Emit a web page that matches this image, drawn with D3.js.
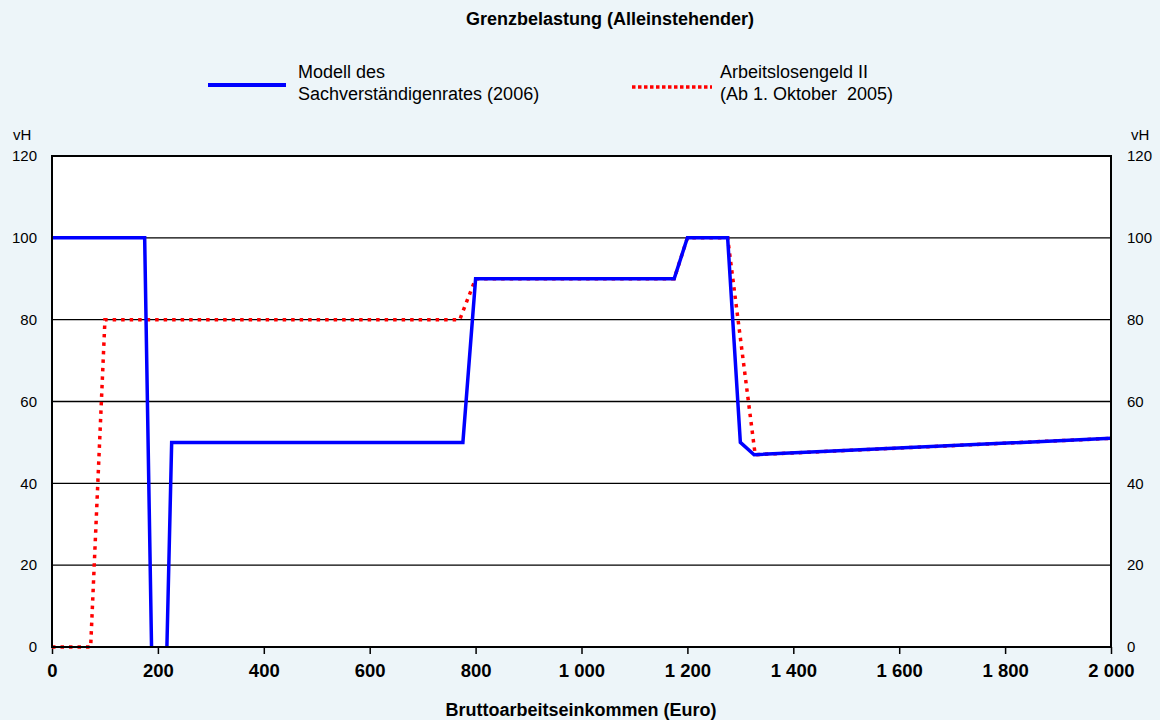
<!DOCTYPE html>
<html>
<head>
<meta charset="utf-8">
<style>
	body { margin: 0; background: #edf5f9; font-family: "Liberation Sans", Arial, Helvetica, sans-serif; }
	svg { display: block; }
	.title { font-size: 18px; font-weight: bold; fill: #000; }
	.legend-text { font-size: 18px; fill: #000; }
	.y-label { font-size: 15px; fill: #000; }
	.x-axis text { font-size: 18.5px; font-weight: bold; fill: #000; }
	.x-axis path { display: none; }
	.x-axis line { stroke: #000; stroke-width: 1.5px; }
	.grid line { stroke: #000; stroke-width: 1.3px; }
	.frame { fill: none; stroke: #000; stroke-width: 2px; }
	.x-title { font-size: 18px; font-weight: bold; fill: #000; }
</style>
</head>
<body>
<script src="https://d3js.org/d3.v7.min.js"></script>
<script>
	// values (null = no line drawn between the two points)
	var xTicks = [0, 200, 400, 600, 800, 1000, 1200, 1400, 1600, 1800, 2000];
	var yTicks = [0, 20, 40, 60, 80, 100, 120];
	var sachverstIncome = [0, 175, 188, null, 217, 226, 776, 800, 1175, 1200, 1276, 1300, 1326, 2000];
	var sachverstRate   = [100, 100, 0, null, 0, 50, 50, 90, 90, 100, 100, 50, 47, 51];
	var alg2Income = [0, 73, 100, 770, 800, 1175, 1200, 1276, 1328, 2000];
	var alg2Rate   = [0, 0, 80, 80, 90, 90, 100, 100, 47, 51];
	var seriesNames = [["Modell des", "Sachverständigenrates (2006)"], ["Arbeitslosengeld II", "(Ab 1. Oktober  2005)"]];

	var W = 1160, H = 720;
	var margin = {top: 156, right: 49, bottom: 73, left: 52},
		width = W - margin.left - margin.right,
		height = H - margin.top - margin.bottom;

	var svg = d3.select("body").append("svg")
		.attr("width", W)
		.attr("height", H);

	svg.append("text")
		.attr("class", "title")
		.attr("x", 610)
		.attr("y", 25)
		.attr("text-anchor", "middle")
		.text("Grenzbelastung (Alleinstehender)");

	// legend
	var legend = svg.append("g");
	legend.append("line")
		.attr("x1", 208).attr("x2", 286).attr("y1", 85).attr("y2", 85)
		.attr("stroke", "#0000ff").attr("stroke-width", 4);
	legend.append("line")
		.attr("x1", 632).attr("x2", 712).attr("y1", 87).attr("y2", 87)
		.attr("stroke", "#ff0000").attr("stroke-width", 3.5)
		.attr("stroke-dasharray", "3.5,2.5");
	[[298, seriesNames[0]], [720, seriesNames[1]]].forEach(function(d) {
		d[1].forEach(function(line, i) {
			legend.append("text")
				.attr("class", "legend-text")
				.attr("x", d[0])
				.attr("y", 78 + i * 22)
				.text(line)
				.style("white-space", "pre");
		});
	});

	var g = svg.append("g")
		.attr("transform", "translate(" + margin.left + "," + margin.top + ")");

	var x = d3.scaleLinear().domain([0, 2000]).range([0, width]);
	var y = d3.scaleLinear().domain([0, 120]).range([height, 0]);

	g.append("rect")
		.attr("width", width)
		.attr("height", height)
		.attr("fill", "#fff");

	g.append("g")
		.attr("class", "grid")
		.selectAll("line")
		.data(yTicks.filter(function(d) { return d > 0 && d < 120; }))
		.enter().append("line")
		.attr("x1", 0).attr("x2", width)
		.attr("y1", function(d) { return y(d); })
		.attr("y2", function(d) { return y(d); });

	var fmt = function(d) { return d3.format(",")(d).replace(",", " "); };

	g.append("g")
		.attr("class", "x-axis")
		.attr("transform", "translate(0," + height + ")")
		.call(d3.axisBottom(x).tickValues(xTicks).tickSize(7).tickPadding(10).tickFormat(fmt));

	// y labels left and right
	g.append("g").selectAll("text")
		.data(yTicks)
		.enter().append("text")
		.attr("class", "y-label")
		.attr("x", -15)
		.attr("y", function(d) { return y(d); })
		.attr("dy", "0.35em")
		.attr("text-anchor", "end")
		.text(function(d) { return d; });
	g.append("g").selectAll("text")
		.data(yTicks)
		.enter().append("text")
		.attr("class", "y-label")
		.attr("x", width + 16)
		.attr("y", function(d) { return y(d); })
		.attr("dy", "0.35em")
		.text(function(d) { return d; });
	g.append("text").attr("class", "y-label")
		.attr("x", -39).attr("y", -16).text("vH");
	g.append("text").attr("class", "y-label")
		.attr("x", width + 20).attr("y", -16).text("vH");

	var line = d3.line()
		.defined(function(d) { return d[0] !== null && d[1] !== null; })
		.x(function(d) { return x(d[0]); })
		.y(function(d) { return y(d[1]); });

	var blueData = d3.zip(sachverstIncome, sachverstRate);
	var redData = d3.zip(alg2Income, alg2Rate);

	g.append("path")
		.datum(redData)
		.attr("fill", "none")
		.attr("stroke", "#ff0000")
		.attr("stroke-width", 3.5)
		.attr("stroke-dasharray", "3.5,5")
		.attr("d", line);

	g.append("path")
		.datum(blueData)
		.attr("fill", "none")
		.attr("stroke", "#0000ff")
		.attr("stroke-width", 3.5)
		.attr("stroke-linejoin", "miter")
		.attr("d", line);

	g.append("rect")
		.attr("class", "frame")
		.attr("width", width)
		.attr("height", height);

	svg.append("text")
		.attr("class", "x-title")
		.attr("x", 581)
		.attr("y", 716)
		.attr("text-anchor", "middle")
		.text("Bruttoarbeitseinkommen (Euro)");
</script>
</body>
</html>
